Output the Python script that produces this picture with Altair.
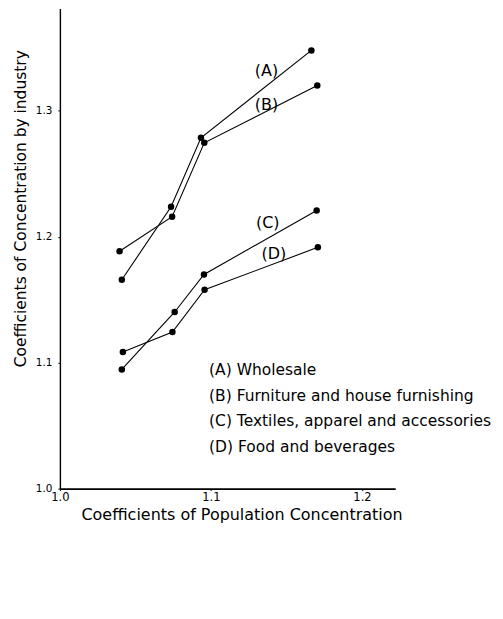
import altair as alt
import pandas as pd

industries = [
    "(A)  Wholesale",
    "(B)  Furniture and house furnishing",
    "(C)  Textiles, apparel and accessories",
    "(D)  Food and beverages",
]
tags = ["(A)", "(B)", "(C)", "(D)"]

# x: coefficients of population concentration, y: coefficients of concentration by industry
pop_A = [1.041, 1.0736, 1.0934, 1.1665]
conc_A = [1.1658, 1.2237, 1.2785, 1.3478]
pop_B = [1.0395, 1.0743, 1.0956, 1.1704]
conc_B = [1.1884, 1.2158, 1.2745, 1.3199]
pop_C = [1.041, 1.076, 1.0954, 1.170]
conc_C = [1.0946, 1.1402, 1.1700, 1.2208]
pop_D = [1.0417, 1.0745, 1.0958, 1.1708]
conc_D = [1.1085, 1.1243, 1.1579, 1.1915]

# positions of the (A)...(D) tags along the lines, in data units
tag_x = [1.1368, 1.1368, 1.1376, 1.1416]
tag_y = [1.3312, 1.3043, 1.2105, 1.1866]

x_ticks = [1.0, 1.1, 1.2]
y_ticks = [1.0, 1.1, 1.2, 1.3]

rows = []
for name, xs, ys in zip(industries, [pop_A, pop_B, pop_C, pop_D], [conc_A, conc_B, conc_C, conc_D]):
    for i, (xv, yv) in enumerate(zip(xs, ys)):
        rows.append({"industry": name, "order": i, "pop": xv, "conc": yv})
df = pd.DataFrame(rows)
tag_df = pd.DataFrame({"tag": tags, "pop": tag_x, "conc": tag_y})

FONT = "DejaVu Sans"

xscale = alt.Scale(domain=[1.0, 1.222], nice=False, zero=False)
yscale = alt.Scale(domain=[1.0, 1.381], nice=False, zero=False)

xenc = alt.X("pop:Q", scale=xscale, axis=alt.Axis(
    values=x_ticks, format=".1f", grid=False, tickSize=2, labelPadding=1,
    labelFlush=False, labelOverlap=False,
    labelFontSize=11.5, labelFont=FONT, labelColor="black", labelFontWeight="normal",
    domainColor="black", domainWidth=1.6, tickColor="black",
    title="Coefficients of Population Concentration", titleFont=FONT,
    titleFontSize=16, titleFontWeight="normal", titleColor="black",
    titleX=182, titleY=26, titleAlign="center", titleBaseline="middle"))
yenc = alt.Y("conc:Q", scale=yscale, axis=alt.Axis(
    values=y_ticks, format=".1f", grid=False, tickSize=2, labelPadding=6,
    labelFlush=False, labelOverlap=False,
    labelFontSize=10.5, labelFont=FONT, labelColor="black",
    domainColor="black", domainWidth=1.4, tickColor="black",
    title="Coefficients of Concentration by industry", titleFont=FONT,
    titleFontSize=15.5, titleFontWeight="normal", titleColor="black",
    titleX=-39, titleY=200, titleAlign="center", titleBaseline="middle", titleAngle=270))

color = alt.Color("industry:N", scale=alt.Scale(domain=industries, range=["black"] * 4),
                  sort=industries,
                  legend=alt.Legend(orient="none", legendX=134, legendY=354, title=None,
                                    symbolOpacity=0, symbolSize=0, symbolStrokeWidth=0,
                                    labelOffset=0, labelFontSize=15.5, labelFont=FONT,
                                    labelColor="black", rowPadding=9, padding=0,
                                    labelLimit=400))

lines = alt.Chart(df).mark_line(strokeWidth=1.1).encode(
    x=xenc, y=yenc, color=color, order="order:Q")
points = alt.Chart(df).mark_circle(size=42, opacity=1).encode(
    x=xenc, y=yenc, color=color)
labels = alt.Chart(tag_df).mark_text(fontSize=16, font=FONT, color="black").encode(
    x=alt.X("pop:Q", scale=xscale), y=alt.Y("conc:Q", scale=yscale), text="tag:N")

chart = alt.layer(lines, points, labels).properties(
    width=336, height=481,
    autosize=alt.AutoSizeParams(type="none"),
    padding={"left": 52, "top": 0, "right": 100, "bottom": 110},
).configure(background="white").configure_view(stroke=None)

chart.save("out.html", embed_options={"renderer": "svg", "actions": False})
